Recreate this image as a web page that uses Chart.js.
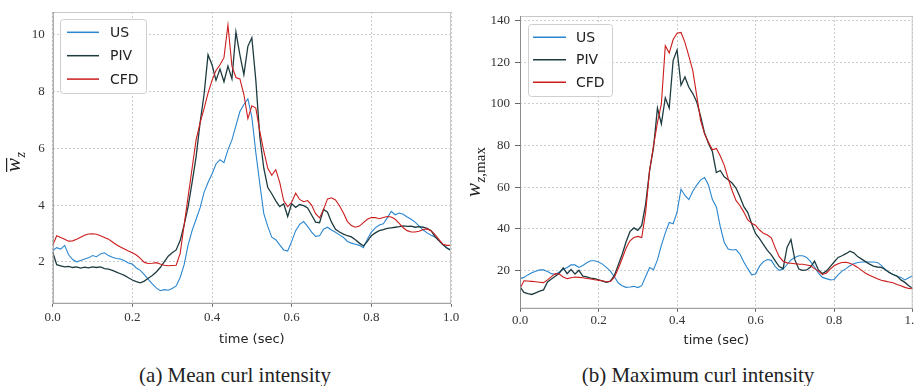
<!DOCTYPE html>
<html>
<head>
<meta charset="utf-8">
<script src="https://cdn.jsdelivr.net/npm/chart.js@4.4.1/dist/chart.umd.min.js"></script>
<style>
    body {
        margin: 0;
        width: 914px;
        height: 386px;
        overflow: hidden;
        background: #fff;
        position: relative;
    }
    canvas {
        position: absolute;
        top: 0;
    }
    #meanChart { left: 0; }
    #maxChart { left: 460px; }
    .caption {
        position: absolute;
        top: 363px;
        line-height: 24px;
        font-family: "Liberation Serif", serif;
        font-size: 21px;
        color: #222;
        text-align: center;
        white-space: nowrap;
    }
</style>
</head>
<body>
<canvas id="meanChart" width="460" height="348"></canvas>
<canvas id="maxChart" width="470" height="348"></canvas>
<div class="caption" style="left:105px; width:260px;">(a) Mean curl intensity</div>
<div class="caption" style="left:568px; width:260px;">(b) Maximum curl intensity</div>

<script>
// time axis (sec)
const time = [
    0.00, 0.01, 0.02, 0.03, 0.04, 0.05, 0.06, 0.07, 0.08, 0.09,
    0.10, 0.11, 0.12, 0.13, 0.14, 0.15, 0.16, 0.17, 0.18, 0.19,
    0.20, 0.21, 0.22, 0.23, 0.24, 0.25, 0.26, 0.27, 0.28, 0.29,
    0.30, 0.31, 0.32, 0.33, 0.34, 0.35, 0.36, 0.37, 0.38, 0.39,
    0.40, 0.41, 0.42, 0.43, 0.44, 0.45, 0.46, 0.47, 0.48, 0.49,
    0.50, 0.51, 0.52, 0.53, 0.54, 0.55, 0.56, 0.57, 0.58, 0.59,
    0.60, 0.61, 0.62, 0.63, 0.64, 0.65, 0.66, 0.67, 0.68, 0.69,
    0.70, 0.71, 0.72, 0.73, 0.74, 0.75, 0.76, 0.77, 0.78, 0.79,
    0.80, 0.81, 0.82, 0.83, 0.84, 0.85, 0.86, 0.87, 0.88, 0.89,
    0.90, 0.91, 0.92, 0.93, 0.94, 0.95, 0.96, 0.97, 0.98, 0.99,
    1.00,
];

// (a) mean curl intensity
const usMean = [
    2.40, 2.50, 2.45, 2.58, 2.25, 2.08, 2.00, 2.05, 2.10, 2.14,
    2.22, 2.18, 2.28, 2.32, 2.22, 2.16, 2.12, 2.10, 2.04, 1.96,
    1.92, 1.78, 1.70, 1.55, 1.38, 1.22, 1.08, 0.98, 1.02, 1.00,
    1.06, 1.15, 1.45, 1.90, 2.60, 3.10, 3.50, 3.90, 4.45, 4.80,
    5.10, 5.45, 5.60, 5.50, 5.95, 6.30, 6.80, 7.30, 7.55, 7.75,
    7.10, 5.85, 4.75, 3.70, 3.25, 2.87, 2.78, 2.60, 2.42, 2.38,
    2.72, 3.10, 3.32, 3.42, 3.25, 3.05, 2.90, 2.92, 3.15, 3.22,
    3.12, 3.04, 2.95, 2.86, 2.72, 2.66, 2.62, 2.58, 2.50, 2.80,
    3.05, 3.20, 3.30, 3.34, 3.55, 3.78, 3.66, 3.72, 3.68, 3.58,
    3.50, 3.40, 3.26, 3.12, 3.02, 2.94, 2.88, 2.76, 2.60, 2.50,
    2.42,
];
const pivMean = [
    2.35, 1.90, 1.86, 1.82, 1.84, 1.80, 1.82, 1.78, 1.81, 1.79,
    1.82, 1.80, 1.82, 1.76, 1.74, 1.70, 1.64, 1.58, 1.52, 1.44,
    1.36, 1.30, 1.26, 1.32, 1.42, 1.52, 1.64, 1.80, 2.00, 2.20,
    2.32, 2.42, 2.75, 3.30, 3.95, 4.80, 5.70, 6.90, 7.90, 9.30,
    8.95, 8.40, 8.80, 8.35, 8.90, 8.45, 10.10, 9.30, 8.60, 9.60,
    9.90, 8.40, 6.40, 5.30, 4.62, 4.40, 4.15, 3.95, 4.05, 3.60,
    4.05, 3.92, 4.02, 3.98, 3.90, 3.65, 3.40, 3.38, 3.85, 3.75,
    3.40, 3.15, 3.05, 2.98, 2.92, 2.88, 2.78, 2.66, 2.56, 2.72,
    2.92, 3.02, 3.10, 3.14, 3.18, 3.20, 3.22, 3.24, 3.27, 3.25,
    3.26, 3.22, 3.24, 3.22, 3.18, 3.10, 2.88, 2.74, 2.60, 2.48,
    2.40,
];
const cfdMean = [
    2.58, 2.92, 2.86, 2.80, 2.73, 2.74, 2.80, 2.87, 2.94, 2.98,
    2.99, 2.97, 2.92, 2.86, 2.80, 2.70, 2.60, 2.52, 2.45, 2.38,
    2.32, 2.24, 2.12, 1.98, 1.94, 1.95, 1.97, 1.92, 1.88, 1.86,
    1.87, 1.88, 2.30, 3.30, 4.30, 5.30, 6.30, 6.90, 7.40, 7.95,
    8.40, 8.75, 8.95, 9.20, 10.35, 8.90, 8.50, 8.45, 7.90, 7.05,
    7.50, 7.42, 6.60, 5.90, 5.30, 5.05, 5.25, 4.80, 4.15, 3.95,
    4.10, 4.42, 4.20, 4.12, 4.16, 4.00, 3.70, 3.55, 3.85, 4.22,
    4.26, 4.18, 3.98, 3.72, 3.42, 3.28, 3.22, 3.26, 3.38, 3.50,
    3.56, 3.56, 3.52, 3.56, 3.60, 3.58, 3.50, 3.36, 3.20, 3.10,
    3.05, 3.05, 3.08, 3.14, 3.16, 3.10, 2.96, 2.78, 2.62, 2.58,
    2.58,
];

// (b) maximum curl intensity
const usMax = [
    16.0, 16.6, 17.8, 18.8, 19.6, 20.2, 20.2, 19.4, 18.4, 18.0,
    19.2, 20.4, 21.4, 22.6, 22.6, 21.4, 22.3, 23.6, 24.6, 24.6,
    24.0, 23.0, 21.4, 19.6, 17.0, 14.0, 12.6, 11.8, 12.0, 12.3,
    11.7, 12.6, 17.0, 21.4, 20.3, 25.0, 32.0, 38.0, 43.0, 42.4,
    48.0, 59.0, 56.0, 54.0, 58.0, 61.0, 63.5, 64.6, 61.0, 54.0,
    50.5, 41.0, 33.5, 30.2, 29.8, 30.0, 27.8, 24.0, 20.8, 17.8,
    18.2, 22.0, 24.2, 25.2, 24.8, 21.8, 20.0, 20.6, 22.8, 25.0,
    26.2, 27.0, 27.0, 26.2, 24.2, 21.6, 18.6, 16.6, 16.0, 15.4,
    15.6, 17.8, 19.6, 20.8, 22.2, 23.2, 23.8, 24.0, 24.0, 24.0,
    24.0, 23.8, 22.4, 20.4, 19.0, 18.0, 17.2, 16.6, 15.4, 16.4,
    17.4,
];
const pivMax = [
    12.0, 9.4, 8.8, 8.4, 9.2, 10.0, 10.6, 14.4, 15.8, 17.2,
    18.6, 21.2, 18.4, 20.4, 18.2, 20.0, 17.2, 16.8, 16.2, 16.0,
    15.4, 14.8, 14.2, 14.8, 17.4, 22.4, 27.6, 33.6, 38.6, 40.4,
    39.2, 41.6, 52.0, 68.0, 79.0, 98.0, 90.4, 103.0, 98.0, 121.0,
    126.0, 109.0, 113.0, 108.0, 105.0, 101.0, 94.0, 86.0, 81.0, 77.0,
    67.0, 68.0, 65.0, 63.6, 62.0, 59.6, 55.4, 50.6, 47.8, 42.4,
    37.6, 35.2, 32.4, 29.6, 27.4, 24.6, 21.8, 20.8, 31.0, 34.8,
    25.0, 20.6, 20.0, 20.2, 21.6, 24.4, 20.2, 18.4, 19.6, 21.8,
    24.0, 26.2, 27.0, 28.0, 29.2, 28.4, 26.6, 25.4, 24.2, 23.0,
    22.0, 21.6, 21.4, 20.4, 19.0, 18.0, 17.2, 15.4, 14.2, 12.6,
    11.4,
];
const cfdMax = [
    11.2, 15.0, 14.9, 14.7, 14.5, 14.3, 14.1, 15.4, 17.0, 18.4,
    18.2, 16.8, 16.0, 16.4, 16.8, 16.6, 16.4, 16.1, 15.8, 15.5,
    15.3, 15.0, 14.5, 14.6, 16.6, 20.8, 25.6, 30.6, 34.2, 35.8,
    36.3, 35.8, 48.0, 68.0, 80.0, 91.0, 100.0, 128.0, 124.5, 131.0,
    134.0, 134.4, 129.6, 123.0, 116.0, 104.0, 92.0, 85.6, 81.6, 78.0,
    78.6, 75.0, 70.6, 64.2, 58.4, 53.6, 51.2, 48.0, 44.2, 42.6,
    41.6, 39.4, 37.8, 37.0, 35.6, 30.8, 26.6, 24.4, 23.6, 23.4,
    23.2, 23.0, 22.9, 22.6, 22.2, 20.8, 19.6, 18.0, 18.6, 20.6,
    22.2, 23.2, 23.8, 23.9, 23.4, 22.6, 21.4, 20.0, 18.6, 17.6,
    16.8, 16.0, 15.2, 14.8, 14.4, 14.0, 13.2, 12.6, 11.8, 11.3,
    11.2,
];

// tick labels
const timeTicks = [0.0, 0.2, 0.4, 0.6, 0.8, 1.0];
const meanTicks = [2, 4, 6, 8, 10];
const maxTicks = [20, 40, 60, 80, 100, 120, 140];

const seriesNames = ["US", "PIV", "CFD"];
const seriesColors = ["#2a86cf", "#1e3c40", "#cc1c1c"];
const seriesWidths = [1.1, 1.3, 1.1];

const tickFont = { family: "Liberation Serif", size: 13 };

// light frame round the plot area, drawn over the lines like matplotlib spines
const framePlugin = {
    id: "frame",
    afterDatasetsDraw(chart) {
        const { ctx, chartArea: a } = chart;
        ctx.save();
        ctx.lineWidth = 1;
        ctx.strokeStyle = "#c8c8c8";
        ctx.beginPath();
        ctx.moveTo(a.left, a.top + 0.5);
        ctx.lineTo(a.right, a.top + 0.5);
        ctx.moveTo(a.right - 0.5, a.top);
        ctx.lineTo(a.right - 0.5, a.bottom);
        ctx.stroke();
        ctx.strokeStyle = "#8c8c8c";
        ctx.beginPath();
        ctx.moveTo(a.left + 0.5, a.top);
        ctx.lineTo(a.left + 0.5, a.bottom);
        ctx.moveTo(a.left, a.bottom - 0.5);
        ctx.lineTo(a.right, a.bottom - 0.5);
        ctx.stroke();
        ctx.restore();
    },
};

// legend box inside the plot (upper left)
const insideLegendPlugin = {
    id: "insideLegend",
    afterDraw(chart, args, opts) {
        const ctx = chart.ctx;
        ctx.save();
        ctx.fillStyle = "rgba(255,255,255,0.85)";
        ctx.strokeStyle = "#cfcfcf";
        ctx.lineWidth = 1;
        ctx.beginPath();
        ctx.roundRect(opts.x + 0.5, opts.y + 0.5, opts.w, opts.h, 3);
        ctx.fill();
        ctx.stroke();
        ctx.font = "14px 'DejaVu Sans'";
        ctx.textBaseline = "middle";
        chart.data.datasets.forEach((ds, i) => {
            const y = opts.firstRow + i * opts.rowGap;
            ctx.strokeStyle = ds.borderColor;
            ctx.lineWidth = 1.5;
            ctx.beginPath();
            ctx.moveTo(opts.lineX, y);
            ctx.lineTo(opts.lineX + opts.lineLen, y);
            ctx.stroke();
            ctx.fillStyle = "#222";
            ctx.fillText(ds.label, opts.textX, y + 1);
        });
        ctx.restore();
    },
};

// rotated math label for the y axis: w with optional bar and subscript
const yLabelPlugin = {
    id: "yLabel",
    afterDraw(chart, args, opts) {
        const ctx = chart.ctx;
        ctx.save();
        ctx.translate(opts.x, opts.y);
        ctx.rotate(-Math.PI / 2);
        ctx.fillStyle = "#222";
        ctx.textBaseline = "alphabetic";
        ctx.font = "italic 21px 'Liberation Serif'";
        ctx.fillText("w", 0, 0);
        const w = ctx.measureText("w").width;
        if (opts.bar) {
            ctx.fillRect(0, -14, w, 1.2);
        }
        ctx.font = "italic " + opts.subSize + "px 'Liberation Serif'";
        ctx.fillText("z", w + 0.5, 5);
        if (opts.rest) {
            const zw = ctx.measureText("z").width;
            ctx.font = opts.subSize + "px 'Liberation Serif'";
            ctx.fillText(opts.rest, w + 0.5 + zw, 5);
        }
        ctx.restore();
    },
};

function makeDatasets(values) {
    return values.map((vals, i) => ({
        label: seriesNames[i],
        data: time.map((t, k) => ({ x: t, y: vals[k] })),
        borderColor: seriesColors[i],
        borderWidth: seriesWidths[i],
        pointRadius: 0,
        tension: 0,
        fill: false,
        order: 2 - i,
    }));
}

function makeChart(canvasId, values, yTicks, cfg) {
    const ctx = document.getElementById(canvasId);
    return new Chart(ctx.getContext("2d"), {
        type: "line",
        data: { datasets: makeDatasets(values) },
        plugins: [framePlugin, insideLegendPlugin, yLabelPlugin],
        options: {
            responsive: false,
            animation: false,
            events: [],
            layout: { padding: cfg.padding },
            plugins: {
                legend: { display: false },
                tooltip: { enabled: false },
                insideLegend: cfg.legend,
                yLabel: cfg.yLabel,
            },
            scales: {
                x: {
                    type: "linear",
                    min: 0,
                    max: 1,
                    afterBuildTicks: (s) => {
                        s.ticks = timeTicks.map((v) => ({ value: v }));
                    },
                    afterFit: (s) => {
                        s.paddingLeft = 0;
                        s.paddingRight = 0;
                    },
                    grid: {
                        color: "#cccccc",
                        tickColor: "#666",
                        tickLength: cfg.xTickLength,
                    },
                    border: { display: false, dash: [2, 2] },
                    ticks: {
                        padding: cfg.xTickPadding,
                        maxRotation: 0,
                        autoSkip: false,
                        color: "#333",
                        font: tickFont,
                        callback: (v) => v.toFixed(1),
                    },
                    title: {
                        display: true,
                        text: "time (sec)",
                        color: "#222",
                        font: { family: "DejaVu Sans", size: 13 },
                        padding: { top: cfg.titlePadTop, bottom: 0 },
                    },
                },
                y: {
                    min: cfg.yMin,
                    max: cfg.yMax,
                    afterBuildTicks: (s) => {
                        s.ticks = yTicks.map((v) => ({ value: v }));
                    },
                    afterFit: (s) => {
                        s.width = cfg.yWidth;
                        s.paddingTop = 0;
                        s.paddingBottom = 0;
                    },
                    grid: {
                        color: "#cccccc",
                        tickColor: "#666",
                        drawTicks: cfg.yTickLength > 0,
                        tickLength: cfg.yTickLength,
                    },
                    border: { display: false, dash: [2, 2] },
                    ticks: {
                        padding: cfg.yTickPadding,
                        autoSkip: false,
                        color: "#333",
                        font: tickFont,
                        callback: (v) => String(v),
                    },
                },
            },
        },
    });
}

// (a) Mean curl intensity
makeChart("meanChart", [usMean, pivMean, cfdMean], meanTicks, {
    padding: { top: 12, right: 9, bottom: 1, left: 0 },
    yMin: 0.52,
    yMax: 10.81,
    yWidth: 52.7,
    yTickLength: 0,
    yTickPadding: 8,
    xTickLength: 3,
    xTickPadding: 3,
    titlePadTop: 3,
    legend: { x: 60, y: 19, w: 86, h: 74, firstRow: 32.3, rowGap: 23.4, lineX: 67, lineLen: 32, textX: 110 },
    yLabel: { x: 20, y: 172, bar: true, subSize: 14 },
});

// (b) Maximum curl intensity
makeChart("maxChart", [usMax, pivMax, cfdMax], maxTicks, {
    padding: { top: 16, right: 17.3, bottom: 0, left: 0 },
    yMin: 1.5,
    yMax: 142.3,
    yWidth: 60,
    yTickLength: 5,
    yTickPadding: 5,
    xTickLength: 3,
    xTickPadding: 1,
    titlePadTop: 3,
    legend: { x: 68, y: 24, w: 84, h: 72, firstRow: 37.3, rowGap: 22.5, lineX: 73, lineLen: 33, textX: 116 },
    yLabel: { x: 20, y: 197, bar: false, subSize: 15, rest: ",max" },
});
</script>
</body>
</html>
